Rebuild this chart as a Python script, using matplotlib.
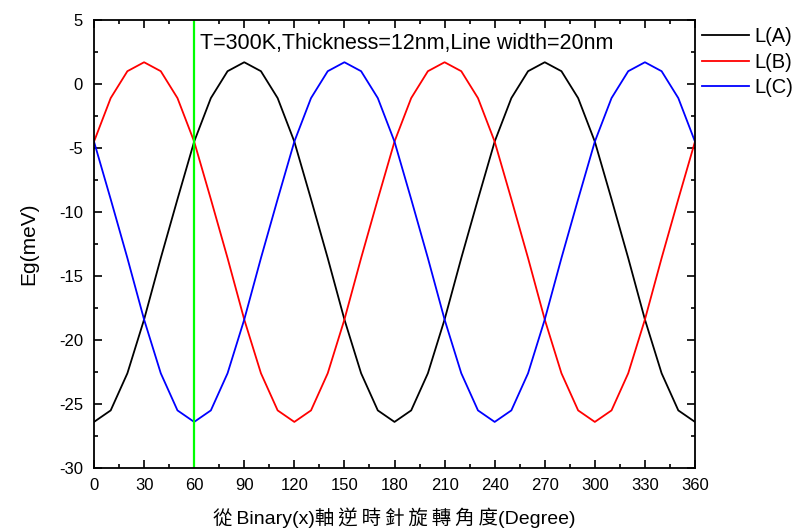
import matplotlib
matplotlib.use("Agg")
import matplotlib.pyplot as plt
from matplotlib.ticker import MultipleLocator

angles = list(range(0, 361, 10))
LA = [-26.4, -25.5, -22.6, -18.4, -13.6, -9.0, -4.5, -1.1, 1.0, 1.7, 1.0, -1.1, -4.5, -9.0, -13.6, -18.4, -22.6, -25.5, -26.4,
      -25.5, -22.6, -18.4, -13.6, -9.0, -4.5, -1.1, 1.0, 1.7, 1.0, -1.1, -4.5, -9.0, -13.6, -18.4, -22.6, -25.5, -26.4]
LB = [-4.5, -1.1, 1.0, 1.7, 1.0, -1.1, -4.5, -9.0, -13.6, -18.4, -22.6, -25.5, -26.4, -25.5, -22.6, -18.4, -13.6, -9.0, -4.5,
      -1.1, 1.0, 1.7, 1.0, -1.1, -4.5, -9.0, -13.6, -18.4, -22.6, -25.5, -26.4, -25.5, -22.6, -18.4, -13.6, -9.0, -4.5]
LC = [-4.5, -9.0, -13.6, -18.4, -22.6, -25.5, -26.4, -25.5, -22.6, -18.4, -13.6, -9.0, -4.5, -1.1, 1.0, 1.7, 1.0, -1.1, -4.5,
      -9.0, -13.6, -18.4, -22.6, -25.5, -26.4, -25.5, -22.6, -18.4, -13.6, -9.0, -4.5, -1.1, 1.0, 1.7, 1.0, -1.1, -4.5]
series_names = ["L(A)", "L(B)", "L(C)"]
marker_angle = 60
annotation = "T=300K,Thickness=12nm,Line width=20nm"
xlabel = "從\u2009Binary(x)軸\u2009逆\u2009時\u2009針\u2009旋\u2009轉\u2009角\u2009度(Degree)"
ylabel = "Eg(meV)"

plt.rcParams['font.family'] = ['Liberation Sans', 'Noto Sans CJK TC', 'DejaVu Sans']
plt.rcParams['axes.unicode_minus'] = False

fig = plt.figure(figsize=(7.96, 5.30), dpi=100)
ax = fig.add_axes([94/796, 62/530, (695-94)/796, (468-20)/530])

l1, = ax.plot(angles, LA, color='black', lw=1.3, label=series_names[0])
l2, = ax.plot(angles, LB, color='red', lw=1.3, label=series_names[1])
l3, = ax.plot(angles, LC, color='blue', lw=1.3, label=series_names[2])
ax.axvline(marker_angle, color='#00FF00', lw=1.6)

ax.set_xlim(0, 360)
ax.set_ylim(-30, 5)
ax.xaxis.set_major_locator(MultipleLocator(30))
ax.xaxis.set_minor_locator(MultipleLocator(15))
ax.yaxis.set_major_locator(MultipleLocator(5))
ax.yaxis.set_minor_locator(MultipleLocator(2.5))
ax.tick_params(which='both', direction='in', top=True, right=True, width=1.2, labelsize=12)
ax.tick_params(which='major', length=6)
ax.tick_params(which='minor', length=3)
ax.tick_params(axis='x', which='major', pad=7)
ax.tick_params(axis='y', which='major', pad=8)
for s in ax.spines.values():
    s.set_linewidth(1.3)

ax.text(63.5, 3.2, annotation, fontsize=15.5, va='center', ha='left')
ax.set_xlabel(xlabel, fontsize=14)
ax.set_ylabel(ylabel, fontsize=15)
ax.xaxis.set_label_coords(0.5, (468-518)/448)
ax.xaxis.label.set_va('center')
ax.yaxis.set_label_coords((29-94)/601, 0.5)
ax.yaxis.label.set_va('center')

fig.legend(handles=[l1, l2, l3], loc='upper left', bbox_to_anchor=(702/796, 1 - 27.5/530),
           frameon=False, fontsize=14.5, handlelength=2.34, handletextpad=0.28, labelspacing=0.32,
           borderaxespad=0, borderpad=0)

fig.savefig("out.png", dpi=100)
